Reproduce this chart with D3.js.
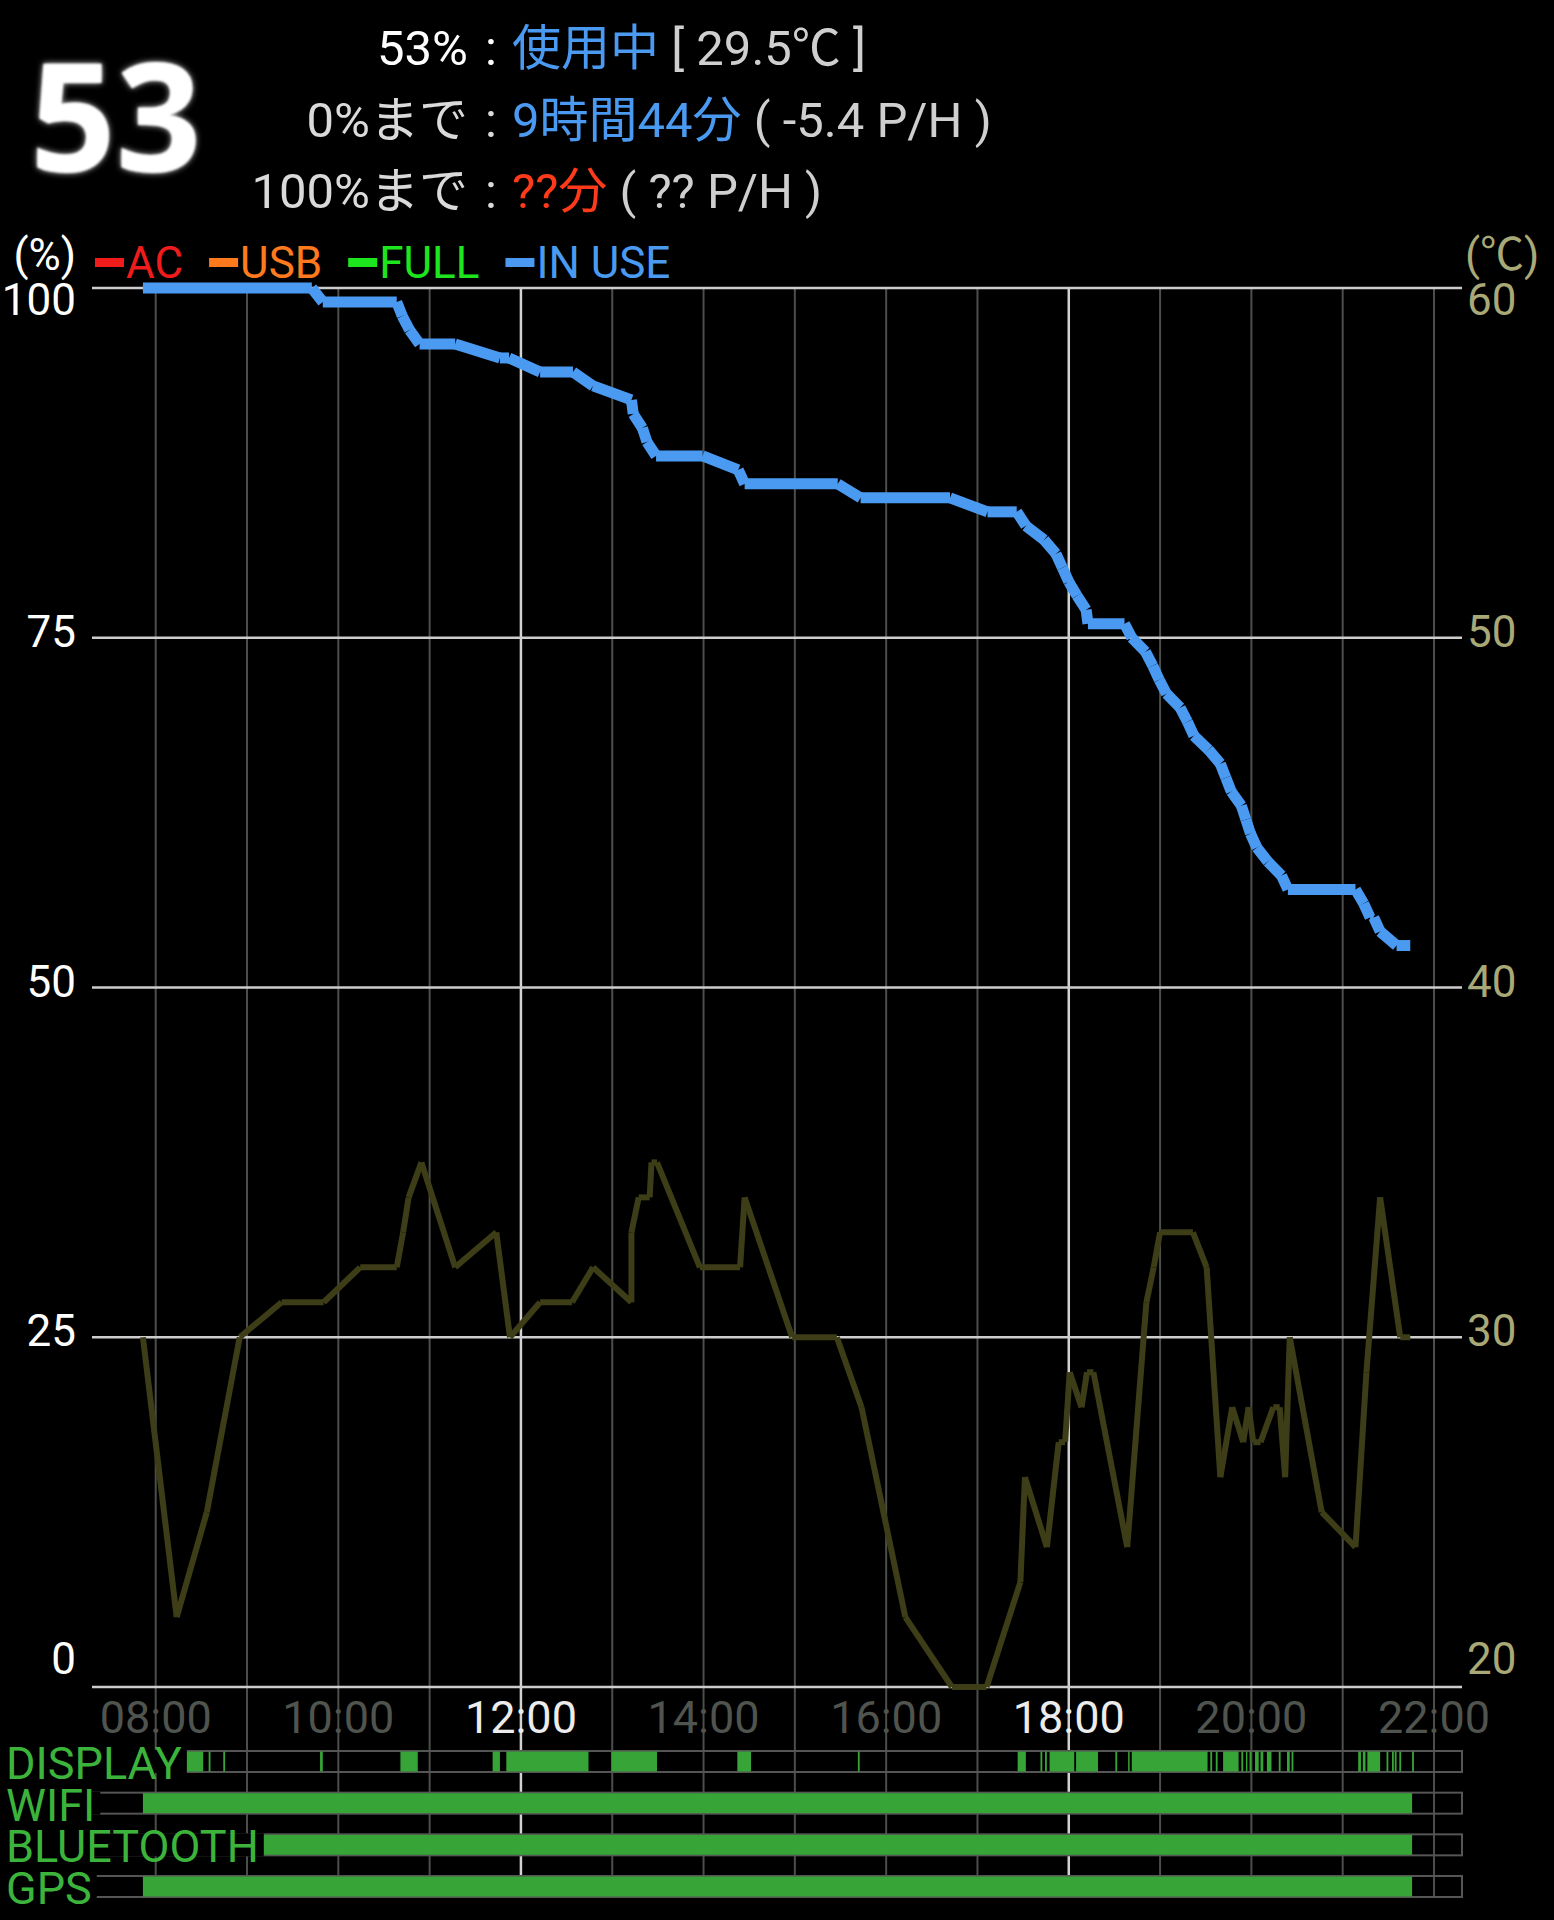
<!DOCTYPE html>
<html>
<head>
<meta charset="utf-8">
<script src="https://cdn.jsdelivr.net/npm/d3@7"></script>
<style>
  body { margin: 0; background: #000; }
  svg { display: block; }
  text { font-family: Roboto, "Noto Sans CJK JP", sans-serif; }
</style>
</head>
<body>
<svg id="chart" width="1554" height="1920"></svg>
<script>
// ---- data ----
var hourGrid   = [8, 9, 10, 11, 12, 13, 14, 15, 16, 17, 18, 19, 20, 21, 22];
var hourLabels = [8, 10, 12, 14, 16, 18, 20, 22];
var brightHours = [12, 18];
var pctTicks  = [100, 75, 50, 25, 0];
var tempTicks = [60, 50, 40, 30, 20];

var legendNames = ["AC", "USB", "FULL", "IN USE"];

var bigLevel   = "53";
var headerLeft  = ["53%", "0%まで", "100%まで"];
var headerValue = ["使用中", "9時間44分", "??分"];
var headerNote  = ["[ 29.5℃ ]", "( -5.4 P/H )", "( ?? P/H )"];

// [hour, battery %]
var battery = [
  [7.86,100],[9.71,100],[9.83,99],[10.64,99],[10.70,98],[10.78,97],[10.89,96],
  [11.28,96],[11.77,95],[11.87,95],[12.21,94],[12.57,94],[12.79,93],[13.21,92],
  [13.23,91],[13.33,90],[13.38,89],[13.48,88],[13.99,88],[14.38,87],[14.45,86],
  [15.47,86],[15.72,85],[16.70,85],[17.11,84],[17.43,84],[17.53,83],[17.73,82],
  [17.86,81],[17.93,80],[18.00,79],[18.09,78],[18.19,77],[18.21,76],[18.61,76],
  [18.69,75],[18.84,74],[18.92,73],[18.99,72],[19.07,71],[19.22,70],[19.30,69],
  [19.37,68],[19.53,67],[19.66,66],[19.72,65],[19.78,64],[19.89,63],[19.94,62],
  [19.99,61],[20.06,60],[20.18,59],[20.33,58],[20.40,57],[21.14,57],[21.23,56],
  [21.30,55],[21.34,55],[21.41,54],[21.59,53],[21.74,53]
];

// [hour, temperature ℃]
var temperature = [
  [7.86,30],[8.23,22],[8.56,25],[8.92,30],[9.38,31],[9.84,31],[10.24,32],[10.64,32],
  [10.71,33],[10.77,34],[10.91,35],[11.28,32],[11.73,33],[11.88,30],[12.21,31],
  [12.56,31],[12.79,32],[13.21,31],[13.21,33],[13.29,34],[13.41,34],[13.43,35],
  [13.49,35],[13.96,32],[14.40,32],[14.45,34],[14.97,30],[15.46,30],[15.73,28],
  [16.21,22],[16.72,20],[17.10,20],[17.47,23],[17.52,26],[17.76,24],[17.89,27],
  [17.96,27],[18.01,29],[18.14,28],[18.20,29],[18.27,29],[18.64,24],[18.85,31],
  [18.93,32],[19.00,33],[19.36,33],[19.51,32],[19.66,26],[19.79,28],[19.91,27],
  [19.97,28],[20.02,27],[20.10,27],[20.24,28],[20.31,28],[20.37,26],[20.42,30],
  [20.77,25],[21.14,24],[21.26,29],[21.41,34],[21.63,30],[21.74,30]
];

var statusRows = ["DISPLAY", "WIFI", "BLUETOOTH", "GPS"];
var displayOn = [
  [7.86,8.52],[8.58,8.60],[8.74,8.76],[9.80,9.83],[10.68,10.87],[11.69,11.77],
  [11.84,12.74],[12.99,13.49],[14.37,14.52],[15.69,15.71],[17.44,17.53],
  [17.69,17.71],[17.74,17.76],[17.79,18.06],[18.08,18.32],[18.51,18.53],
  [18.65,18.66],[18.69,19.52],[19.55,19.57],[19.61,19.63],[19.69,19.86],
  [19.89,19.91],[19.94,19.95],[19.98,20.00],[20.04,20.08],[20.10,20.13],
  [20.17,20.22],[20.30,20.32],[20.39,20.42],[20.44,20.46],[21.17,21.20],
  [21.22,21.25],[21.27,21.41],[21.48,21.50],[21.54,21.56],[21.57,21.59],
  [21.62,21.64],[21.76,21.78]
];
var wifiOn      = [[7.86, 21.76]];
var bluetoothOn = [[7.86, 21.76]];
var gpsOn       = [[7.86, 21.76]];

// ---- styles ----
var col = {
  grid: "#4b4e49", gridBright: "#d2d2d2", hgrid: "#cdcdcd",
  tick: "#50544e", tickBright: "#ececec",
  pct: "#ffffff", temp: "#a9a877",
  battery: "#4b9af2", tempLine: "#3d3d17",
  legend: ["#f01c1c", "#ff7a1c", "#1ee61e", "#4b9af2"],
  bar: "#37a437", barLabel: "#3cb43c", frame: "#555555",
  blue: "#4b9af2", red: "#ff3a1a", gray: "#cfcfcf"
};

var svg = d3.select("#chart");
svg.append("rect").attr("width", 1554).attr("height", 1920).attr("fill", "#000");

var plotLeft = 92, plotRight = 1462, plotTop = 288, plotBottom = 1687;
var x  = d3.scaleLinear().domain([8, 22]).range([155.7, 1434]);
var y  = d3.scaleLinear().domain([0, 100]).range([plotBottom, plotTop]);
var yT = d3.scaleLinear().domain([20, 60]).range([plotBottom, plotTop]);
var rowY = d3.scalePoint().domain(statusRows).range([1751, 1876]);
var rowH = 21;

//////////////////
// header
//////////////////
var defs = svg.append("defs");
var glow = defs.append("filter").attr("id", "glow")
  .attr("x", "-10%").attr("y", "-10%").attr("width", "120%").attr("height", "120%");
glow.append("feGaussianBlur").attr("in", "SourceGraphic").attr("stdDeviation", 3).attr("result", "b");
glow.append("feColorMatrix").attr("in", "b").attr("type", "matrix")
  .attr("values", "0.6 0 0 0 0  0 0.6 0 0 0  0 0 0.6 0 0  0 0 0 1 0").attr("result", "g");
glow.append("feGaussianBlur").attr("in", "SourceGraphic").attr("stdDeviation", 0.9).attr("result", "s");
var m = glow.append("feMerge");
m.append("feMergeNode").attr("in", "g");
m.append("feMergeNode").attr("in", "s");

svg.append("text")
  .attr("x", 30).attr("y", 172)
  .style("font-family", "'Open Sans', 'DejaVu Sans', sans-serif")
  .style("font-weight", 700).style("font-size", "150px")
  .attr("fill", "#fff").attr("filter", "url(#glow)")
  .text(bigLevel);

var headBase = [65, 137, 208];
var head = svg.append("g").style("font-size", "49px");
headerLeft.forEach(function(t, i) {
  var c = i == 0 ? "#ffffff" : "#dadada";
  head.append("text").attr("x", 468).attr("y", headBase[i])
    .attr("text-anchor", "end").attr("fill", c).text(t);
  head.append("text").attr("x", 491).attr("y", headBase[i])
    .attr("text-anchor", "middle").attr("fill", c).text(":");
  var tx = head.append("text").attr("x", 512).attr("y", headBase[i]);
  tx.append("tspan").attr("fill", i == 2 ? col.red : col.blue).text(headerValue[i]);
  tx.append("tspan").attr("fill", col.gray).text(" " + headerNote[i]);
});

//////////////////
// grid
//////////////////
var grid = svg.append("g");
grid.selectAll("line.v").data(hourGrid).enter().append("line")
  .attr("x1", function(d) { return x(d); }).attr("x2", function(d) { return x(d); })
  .attr("y1", plotTop).attr("y2", 1897)
  .attr("stroke", function(d) { return brightHours.indexOf(d) >= 0 ? col.gridBright : col.grid; })
  .attr("stroke-width", function(d) { return brightHours.indexOf(d) >= 0 ? 2.5 : 2; });

grid.selectAll("line.h").data(pctTicks).enter().append("line")
  .attr("x1", plotLeft).attr("x2", plotRight)
  .attr("y1", function(d) { return y(d); }).attr("y2", function(d) { return y(d); })
  .attr("stroke", col.hgrid).attr("stroke-width", 2.5);

// axis labels, kept inside the plot band
function labelY(py) { return Math.max(300, Math.min(1659, py - 6)) + 15; }

var axes = svg.append("g").style("font-size", "44px");
axes.selectAll("text.l").data(pctTicks).enter().append("text")
  .attr("x", 76).attr("y", function(d) { return labelY(y(d)); })
  .attr("text-anchor", "end").attr("fill", col.pct).text(function(d) { return d; });
axes.selectAll("text.r").data(tempTicks).enter().append("text")
  .attr("x", 1467).attr("y", function(d) { return labelY(yT(d)); })
  .attr("fill", col.temp).text(function(d) { return d; });
axes.append("text").attr("x", 76).attr("y", 270).attr("text-anchor", "end")
  .attr("fill", col.pct).text("(%)");
axes.append("text").attr("x", 1465).attr("y", 270)
  .attr("fill", col.temp).text("(℃)");

axes.selectAll("text.t").data(hourLabels).enter().append("text")
  .attr("x", function(d) { return x(d); }).attr("y", 1733)
  .attr("text-anchor", "middle").style("font-size", "45px")
  .attr("fill", function(d) { return brightHours.indexOf(d) >= 0 ? col.tickBright : col.tick; })
  .text(function(d) { return d3.format("02d")(d) + ":00"; });

//////////////////
// legend
//////////////////
var lg = svg.append("g").style("font-size", "44px");
var lx = 95;
legendNames.forEach(function(n, i) {
  lg.append("rect").attr("x", lx).attr("y", 258).attr("width", 29).attr("height", 9)
    .attr("fill", col.legend[i]);
  var t = lg.append("text").attr("x", lx + 31).attr("y", 278)
    .attr("fill", col.legend[i]).text(n);
  lx += 31 + t.node().getComputedTextLength() + 26;
});

//////////////////
// lines
//////////////////
svg.append("g").selectAll("line").data(d3.pairs(temperature)).enter().append("line")
  .attr("x1", function(d) { return x(d[0][0]); }).attr("y1", function(d) { return yT(d[0][1]); })
  .attr("x2", function(d) { return x(d[1][0]); }).attr("y2", function(d) { return yT(d[1][1]); })
  .attr("stroke", col.tempLine).attr("stroke-width", 6).attr("stroke-linecap", "butt");

svg.append("g").selectAll("line").data(d3.pairs(battery)).enter().append("line")
  .attr("x1", function(d) { return x(d[0][0]); }).attr("y1", function(d) { return y(d[0][1]); })
  .attr("x2", function(d) { return x(d[1][0]); }).attr("y2", function(d) { return y(d[1][1]); })
  .attr("stroke", col.battery).attr("stroke-width", 11).attr("stroke-linecap", "butt");

//////////////////
// status rows
//////////////////
var rowData = { DISPLAY: displayOn, WIFI: wifiOn, BLUETOOTH: bluetoothOn, GPS: gpsOn };
var rows = svg.append("g");
statusRows.forEach(function(r) {
  var ry = rowY(r);
  rows.append("rect").attr("x", plotLeft).attr("y", ry).attr("width", plotRight - plotLeft).attr("height", rowH)
    .attr("fill", "none").attr("stroke", col.frame).attr("stroke-width", 2);
  rows.selectAll("rect.on-" + r).data(rowData[r]).enter().append("rect")
    .attr("x", function(d) { return x(d[0]); })
    .attr("width", function(d) { return Math.max(1.5, x(d[1]) - x(d[0])); })
    .attr("y", ry + 0.5).attr("height", rowH - 1)
    .attr("fill", col.bar);
  var bg = rows.append("rect").attr("x", 0).attr("y", ry - 1).attr("height", rowH + 2).attr("fill", "#000");
  var t = rows.append("text").attr("x", 6).attr("y", ry + 28)
    .style("font-size", "45px").attr("fill", col.barLabel).text(r);
  bg.attr("width", 6 + t.node().getComputedTextLength() + 5);
});
</script>
</body>
</html>
